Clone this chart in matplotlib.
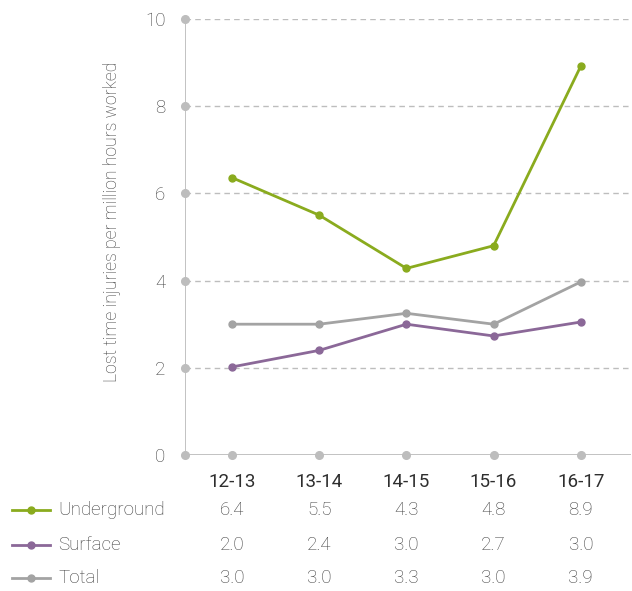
import matplotlib
matplotlib.use("Agg")
import matplotlib.pyplot as plt
import matplotlib.transforms as mtransforms
from matplotlib.lines import Line2D

plt.rcParams['font.family'] = ['Roboto', 'DejaVu Sans']

years = ["12-13", "13-14", "14-15", "15-16", "16-17"]
underground = [6.36, 5.5, 4.28, 4.8, 8.92]
surface = [2.02, 2.4, 3.0, 2.73, 3.05]
total = [3.0, 3.0, 3.25, 3.0, 3.97]
underground_lbl = ["6.4", "5.5", "4.3", "4.8", "8.9"]
surface_lbl = ["2.0", "2.4", "3.0", "2.7", "3.0"]
total_lbl = ["3.0", "3.0", "3.3", "3.0", "3.9"]
yticks = [0, 2, 4, 6, 8, 10]

green = "#8aab1e"
purple = "#8b6898"
grey = "#a3a3a3"
axis_grey = "#bdbdbd"
text_col = "#3e3e3e"

fig = plt.figure(figsize=(6.32, 5.91), dpi=100)
ax = fig.add_axes([0.2927, 0.2301, 0.7063, 0.7378])
x = list(range(len(years)))

for s in ax.spines.values():
    s.set_visible(False)

for t in yticks[1:]:
    ax.axhline(t, color=axis_grey, lw=1, ls=(0, (4, 3)), zorder=1)
ax.axhline(0, color=axis_grey, lw=1.3, zorder=1)
ax.axvline(-0.54, color=axis_grey, lw=1.3, zorder=1)
ax.plot([-0.54] * len(yticks), yticks, "o", color=axis_grey, ms=5.5, zorder=2, clip_on=False)
ax.plot(x, [0] * len(x), "o", color=axis_grey, ms=5.5, zorder=2, clip_on=False)

series = [("Underground", underground, underground_lbl, green),
          ("Surface", surface, surface_lbl, purple),
          ("Total", total, total_lbl, grey)]
for name, vals, lbl, c in series[::-1]:
    ax.plot(x, vals, "-o", color=c, lw=2, ms=5, zorder=3)

ax.set_xlim(-0.54, 4.58)
ax.set_ylim(0, 10)
ax.set_xticks([])
ax.set_yticks(yticks)
ax.set_yticklabels([str(t) for t in yticks], fontsize=13.5, color=text_col, fontweight="light")
ax.tick_params(axis="y", length=0, pad=14)
ax.set_ylabel("Lost time injuries per million hours worked", fontsize=12.7, color=text_col,
              fontweight="light")
ax.yaxis.set_label_coords(-0.143, 0.534)

tr = mtransforms.blended_transform_factory(ax.transData, fig.transFigure)
for i, yr in enumerate(years):
    ax.text(i, 0.185, yr, transform=tr, ha="center", va="center", fontsize=13.5,
            color="#2e2e2e", fontweight="normal")

row_y = [0.137, 0.078, 0.022]
for (name, vals, lbl, c), ry in zip(series, row_y):
    fig.add_artist(Line2D([0.019, 0.079], [ry, ry], color=c, lw=2, transform=fig.transFigure))
    fig.add_artist(Line2D([0.049], [ry], color=c, marker="o", ms=5, transform=fig.transFigure))
    fig.text(0.092, ry, name, ha="left", va="center", fontsize=13.5, color=text_col,
             fontweight="light")
    for i, v in enumerate(lbl):
        ax.text(i, ry, v, transform=tr, ha="center", va="center", fontsize=13.5,
                color=text_col, fontweight="light")

fig.savefig("out.png", dpi=100)
